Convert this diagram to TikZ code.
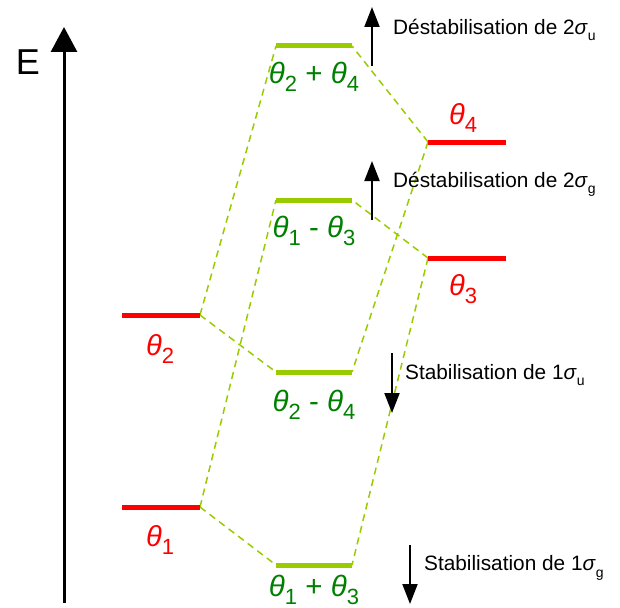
\documentclass[tikz,border=0pt]{standalone}
\usepackage{fontspec}
\setmainfont{Liberation Sans}
\usetikzlibrary{arrows.meta}
\definecolor{lvlred}{HTML}{FF0000}
\definecolor{lvlgreen}{HTML}{99CC00}
\definecolor{txtgreen}{HTML}{008000}
\newcommand{\thl}[1]{\textit{θ}\raisebox{-0.28em}{\fontsize{22}{22}\selectfont #1}}
\newcommand{\sig}[1]{\textit{σ}\raisebox{-0.3em}{\fontsize{14}{14}\selectfont #1}}
\tikzset{
  redlvl/.style={draw=lvlred, line width=5pt},
  greenlvl/.style={draw=lvlgreen, line width=5pt},
  corr/.style={draw=lvlgreen, line width=1.5pt, dash pattern=on 7pt off 5pt},
  redlab/.style={text=lvlred, font=\fontsize{29}{29}\selectfont, inner sep=0pt},
  greenlab/.style={text=txtgreen, font=\fontsize{29.5}{29}\selectfont, inner sep=0pt},
  note/.style={anchor=west, font=\fontsize{20.8}{21}\selectfont, inner sep=0pt},
  enarrow/.style={line width=2pt, -{Triangle[width=15pt,length=20pt]}},
}
\begin{document}
\begin{tikzpicture}[x=1pt,y=-1pt]
\useasboundingbox (0,0) rectangle (620,607);
% energy axis
\coordinate (ebot) at (64,603);
\coordinate (etop) at (64,27);
\draw[line width=3pt, -{Triangle[width=26pt,length=25pt]}] (ebot) -- (etop);
\node[font=\fontsize{36}{36}\selectfont, inner sep=0pt] (E) at (28,62) {E};
% level end points
\coordinate (t1L) at (122,507); \coordinate (t1R) at (200,507);
\coordinate (t2L) at (122,315); \coordinate (t2R) at (200,315);
\coordinate (t3L) at (428,258); \coordinate (t3R) at (506,258);
\coordinate (t4L) at (428,142); \coordinate (t4R) at (506,142);
\coordinate (apL) at (276,46);  \coordinate (apR) at (352,46);
\coordinate (bmL) at (276,200); \coordinate (bmR) at (352,200);
\coordinate (cmL) at (276,372); \coordinate (cmR) at (352,372);
\coordinate (dpL) at (276,565); \coordinate (dpR) at (352,565);
% correlation lines
\draw[corr] (t2R) -- (apL);
\draw[corr] (t2R) -- (cmL);
\draw[corr] (t1R) -- (bmL);
\draw[corr] (t1R) -- (dpL);
\draw[corr] (t4L) -- (apR);
\draw[corr] (t4L) -- (cmR);
\draw[corr] (t3L) -- (bmR);
\draw[corr] (t3L) -- (dpR);
% levels
\draw[redlvl] (t1L) -- (t1R);
\draw[redlvl] (t2L) -- (t2R);
\draw[redlvl] (t3L) -- (t3R);
\draw[redlvl] (t4L) -- (t4R);
\draw[greenlvl] (apL) -- (apR);
\draw[greenlvl] (bmL) -- (bmR);
\draw[greenlvl] (cmL) -- (cmR);
\draw[greenlvl] (dpL) -- (dpR);
% labels
\node[redlab] (l1) at (160,540) {\thl{1}};
\node[redlab] (l2) at (160,349) {\thl{2}};
\node[redlab] (l3) at (463,289) {\thl{3}};
\node[redlab] (l4) at (463,118) {\thl{4}};
\node[greenlab] (la) at (314,77) {\thl{2} + \thl{4}};
\node[greenlab] (lb) at (314,231) {\thl{1} - \thl{3}};
\node[greenlab] (lc) at (314,405) {\thl{2} - \thl{4}};
\node[greenlab] (ld) at (314,590) {\thl{1} + \thl{3}};
% stabilisation arrows
\coordinate (a1s) at (372,66);  \coordinate (a1e) at (372,7);
\coordinate (a2s) at (372,220); \coordinate (a2e) at (372,161);
\coordinate (a3s) at (392,353); \coordinate (a3e) at (392,413);
\coordinate (a4s) at (410,545); \coordinate (a4e) at (410,604);
\draw[enarrow] (a1s) -- (a1e);
\draw[enarrow] (a2s) -- (a2e);
\draw[enarrow] (a3s) -- (a3e);
\draw[enarrow] (a4s) -- (a4e);
\node[note] (n1) at (393,30) {Déstabilisation de 2\sig{u}};
\node[note] (n2) at (393,184) {Déstabilisation de 2\sig{g}};
\node[note] (n3) at (405,375) {Stabilisation de 1\sig{u}};
\node[note] (n4) at (424,568) {Stabilisation de 1\sig{g}};
\end{tikzpicture}
\end{document}
